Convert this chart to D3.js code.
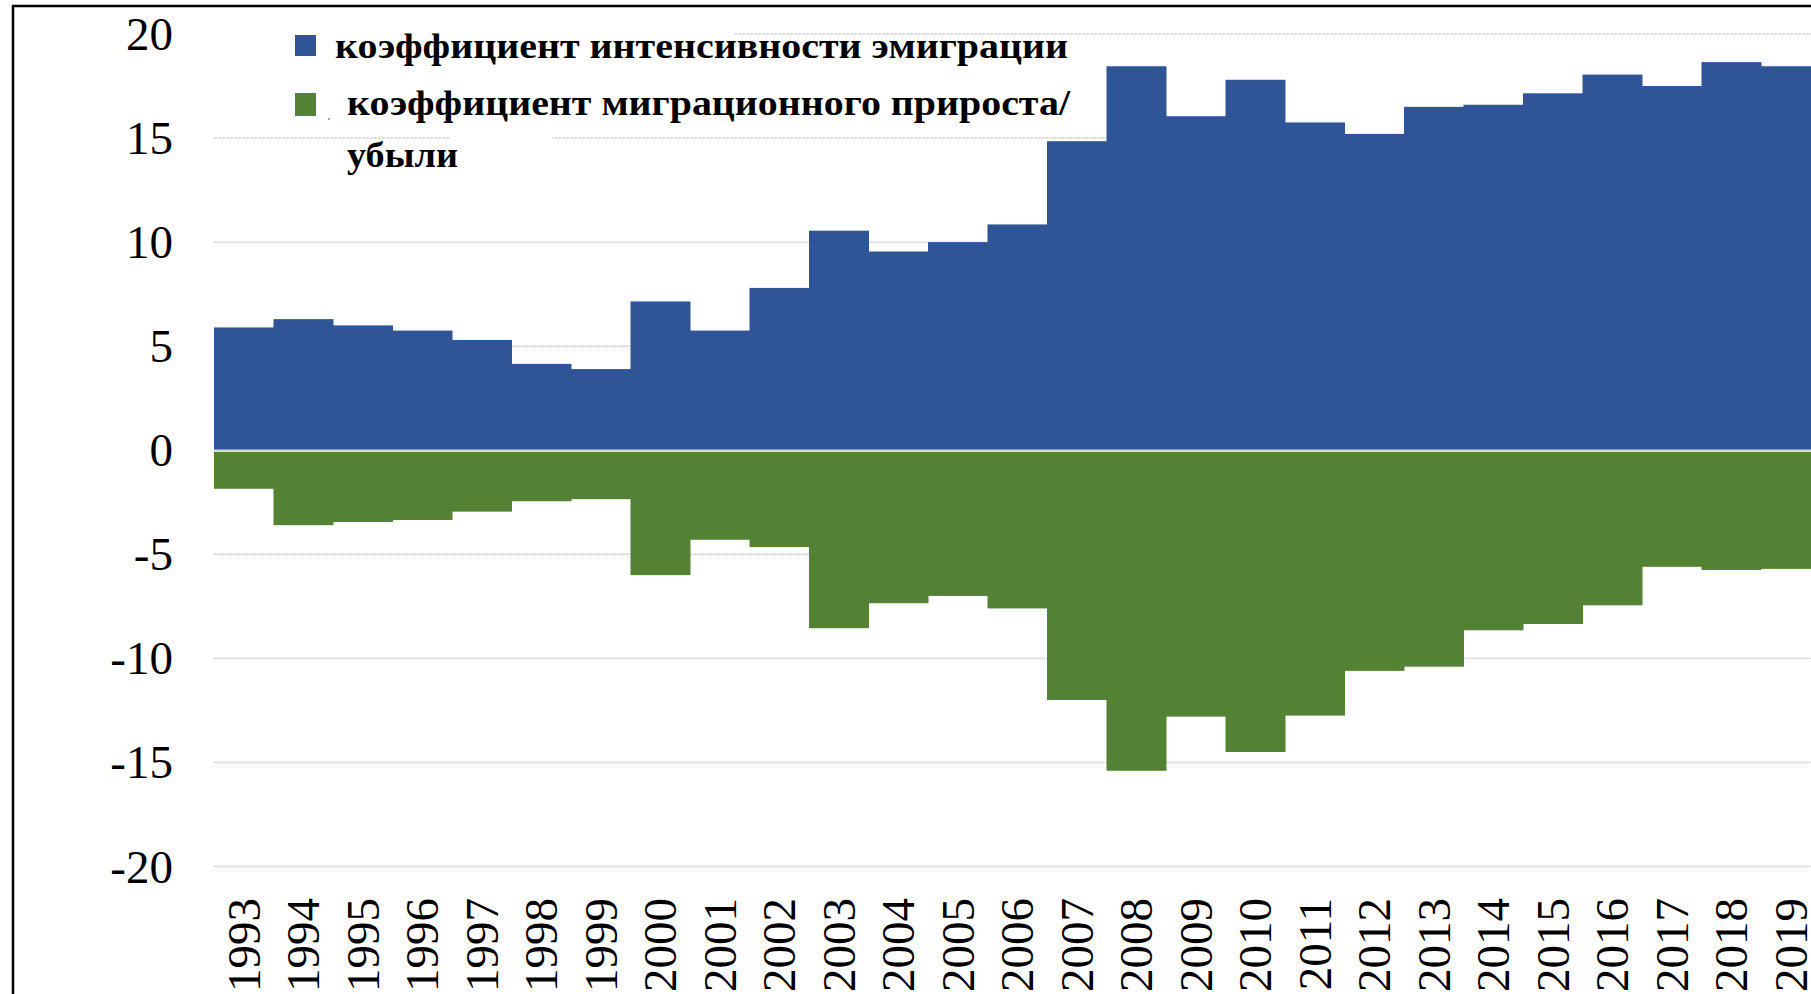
<!DOCTYPE html>
<html>
<head>
<meta charset="utf-8">
<script src="https://cdn.jsdelivr.net/npm/d3@7"></script>
<style>
    body { margin: 0; background: #fff; }
</style>
</head>
<body>
<div class="chart-ctn"></div>
<script>
const years = ['1993', '1994', '1995', '1996', '1997', '1998', '1999', '2000', '2001', '2002',
    '2003', '2004', '2005', '2006', '2007', '2008', '2009', '2010', '2011', '2012',
    '2013', '2014', '2015', '2016', '2017', '2018', '2019'];

// коэффициент интенсивности эмиграции
const emigration = [5.9, 6.3, 6.0, 5.75, 5.3, 4.15, 3.9, 7.15, 5.75, 7.8,
    10.55, 9.55, 10.0, 10.85, 14.85, 18.45, 16.05, 17.8, 15.75, 15.2,
    16.5, 16.6, 17.15, 18.05, 17.5, 18.65, 18.45];

// коэффициент миграционного прироста/убыли
const migration = [-1.85, -3.6, -3.45, -3.35, -2.95, -2.45, -2.35, -6.0, -4.3, -4.65,
    -8.55, -7.35, -7.0, -7.6, -12.0, -15.4, -12.8, -14.5, -12.75, -10.6,
    -10.4, -8.65, -8.35, -7.45, -5.6, -5.75, -5.7];

const yTicks = [20, 15, 10, 5, 0, -5, -10, -15, -20];

const legendLines = ['коэффициент интенсивности эмиграции', 'коэффициент миграционного прироста/', 'убыли'];

const w = 1811;
const h = 994;
const plot = { left: 214, right: 1820.5, top: 34, bottom: 866.5 };
const colors = { blue: '#2f5597', green: '#548235' };
const serifFont = '"Liberation Serif", Tinos, "DejaVu Serif", serif';

function createChart() {
    let svg = d3.select('.chart-ctn')
    .append('svg')
    .attr('width', w)
    .attr('height', h)
    .style('display', 'block');

    let x = d3.scaleBand()
    .domain(years)
    .range([plot.left, plot.right])
    .padding(0);

    let y = d3.scaleLinear()
    .domain([-20, 20])
    .range([plot.bottom, plot.top]);

    // gridlines (zero is drawn later, on top of the bars)
    svg.append('g')
    .selectAll('line')
    .data(yTicks.filter(d => d !== 0))
    .join('line')
    .attr('x1', plot.left)
    .attr('x2', w)
    .attr('y1', d => y(d))
    .attr('y2', d => y(d))
    .attr('stroke', '#d2d2d2')
    .attr('stroke-width', 1.4)
    .attr('stroke-dasharray', '3,1');

    svg.append('g')
    .selectAll('rect')
    .data(emigration)
    .join('rect')
    .attr('x', (d, i) => x(years[i]))
    .attr('y', d => y(d))
    .attr('width', x.bandwidth() + 0.5)
    .attr('height', d => y(0) - y(d))
    .attr('fill', colors.blue);

    svg.append('g')
    .selectAll('rect')
    .data(migration)
    .join('rect')
    .attr('x', (d, i) => x(years[i]))
    .attr('y', y(0))
    .attr('width', x.bandwidth() + 0.5)
    .attr('height', d => y(d) - y(0))
    .attr('fill', colors.green);

    svg.append('line')
    .attr('x1', plot.left)
    .attr('x2', w)
    .attr('y1', y(0) + 0.5)
    .attr('y2', y(0) + 0.5)
    .attr('stroke', '#d6d9de')
    .attr('stroke-width', 2.5);

    // y labels
    svg.append('g')
    .selectAll('text')
    .data(yTicks)
    .join('text')
    .attr('x', 173)
    .attr('y', d => y(d))
    .attr('text-anchor', 'end')
    .attr('dominant-baseline', 'central')
    .style('font-family', serifFont)
    .style('font-size', '47px')
    .attr('fill', '#000')
    .text(d => d);

    // x labels, rotated
    svg.append('g')
    .selectAll('text')
    .data(years)
    .join('text')
    .attr('transform', d => 'translate(' + (x(d) + x.bandwidth() / 2) + ',898) rotate(-90)')
    .attr('text-anchor', 'end')
    .attr('dominant-baseline', 'central')
    .style('font-family', serifFont)
    .style('font-size', '47px')
    .attr('fill', '#000')
    .text(d => d);

    // legend: white patches over the gridlines, like in the original
    svg.append('rect')
    .attr('x', plot.left)
    .attr('y', 28)
    .attr('width', 735 - plot.left)
    .attr('height', 14)
    .attr('fill', '#fff');
    svg.append('rect')
    .attr('x', 450)
    .attr('y', 132)
    .attr('width', 102)
    .attr('height', 12)
    .attr('fill', '#fff');

    svg.append('rect')
    .attr('x', 295)
    .attr('y', 35)
    .attr('width', 21)
    .attr('height', 21)
    .attr('fill', colors.blue);
    svg.append('rect')
    .attr('x', 295)
    .attr('y', 93)
    .attr('width', 21)
    .attr('height', 23)
    .attr('fill', colors.green);

    const legendPos = [
        { x: 335, y: 58, len: 733 },
        { x: 347, y: 115, len: 723 },
        { x: 347, y: 167, len: 111 }
    ];
    svg.append('g')
    .selectAll('text')
    .data(legendLines)
    .join('text')
    .attr('x', (d, i) => legendPos[i].x)
    .attr('y', (d, i) => legendPos[i].y)
    .attr('textLength', (d, i) => legendPos[i].len)
    .attr('lengthAdjust', 'spacingAndGlyphs')
    .style('font-family', serifFont)
    .style('font-size', '36px')
    .style('font-weight', 'bold')
    .attr('fill', '#000')
    .text(d => d);

    // small dot left of the second legend line
    svg.append('circle')
    .attr('cx', 329)
    .attr('cy', 119)
    .attr('r', 1)
    .attr('fill', '#888');

    // frame, cut off on the right and bottom
    svg.append('path')
    .attr('d', 'M13,' + (h + 5) + ' V6 H' + (w + 5))
    .attr('fill', 'none')
    .attr('stroke', '#000')
    .attr('stroke-width', 2.5);
}

createChart();
</script>
</body>
</html>
